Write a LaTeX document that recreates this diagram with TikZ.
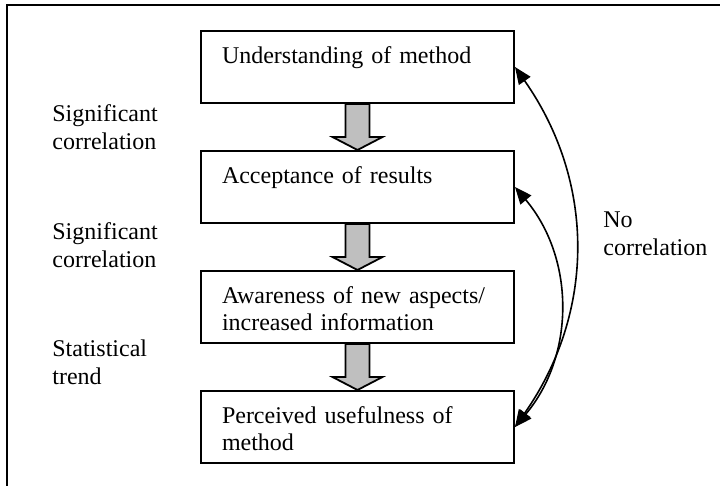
\documentclass[tikz,border=0pt]{standalone}
\usepackage{fontspec}
\setmainfont{Liberation Serif}
\usetikzlibrary{positioning, calc, arrows.meta}
\tikzset{
    box/.style={draw, line width=1pt, text width=135.5pt, inner xsep=10.5pt, inner ysep=7.5pt,
        text height=9pt, text depth=12pt, align=left, font=\fontsize{12}{13.5}\selectfont},
    lbl/.style={text width=70pt, inner sep=0pt, align=left, anchor=base west,
        font=\fontsize{12}{14}\selectfont},
    blockarrow/.style={draw, line width=0.9pt, fill=gray!50, line join=miter},
    corr/.style={line width=0.8pt, {Triangle[length=8.5pt,width=7pt]}-{Triangle[length=8.5pt,width=7pt]}},
    outerframe/.style={line width=1.1pt}
}

\begin{document}
\begin{tikzpicture}[x=0.5pt, y=-0.5pt, node distance=23pt]
    \useasboundingbox (0,0) rectangle (720,486);
    % Rahmen
    \draw[outerframe] (7,500) |- (730,5);

    % Kaestchen
    \node[box, anchor=north west] (u) at (200,30) {Understanding of method};
    \node[box, below=of u] (a) {Acceptance of results};
    \node[box, below=of a] (w) {Awareness of new aspects/\\increased information};
    \node[box, below=of w] (p) {Perceived usefulness of\\method};

    % graue Pfeile
    \foreach \s/\t in {u/a, a/w, w/p}
        \draw[blockarrow] ($(\s.south)+(-6pt,0)$) -- ($(\t.north)+(-6pt,6.5pt)$)
            -- ($(\t.north)+(-12.5pt,6.5pt)$) -- (\t.north) -- ($(\t.north)+(12.5pt,6.5pt)$)
            -- ($(\t.north)+(6pt,6.5pt)$) -- ($(\s.south)+(6pt,0)$) -- cycle;

    % Korrelationen
    \draw[corr] (p.east) to[bend right=35] (u.east);
    \draw[corr] (p.east) to[bend right=40] (a.east);

    % Beschriftungen
    \node[lbl] (sc1) at (52,122) {Significant\\correlation};
    \node[lbl] (sc2) at (52,240) {Significant\\correlation};
    \node[lbl] (st) at (52,357) {Statistical\\trend};
    \node[lbl] (nc) at (603,228) {No\\correlation};
\end{tikzpicture}
\end{document}
